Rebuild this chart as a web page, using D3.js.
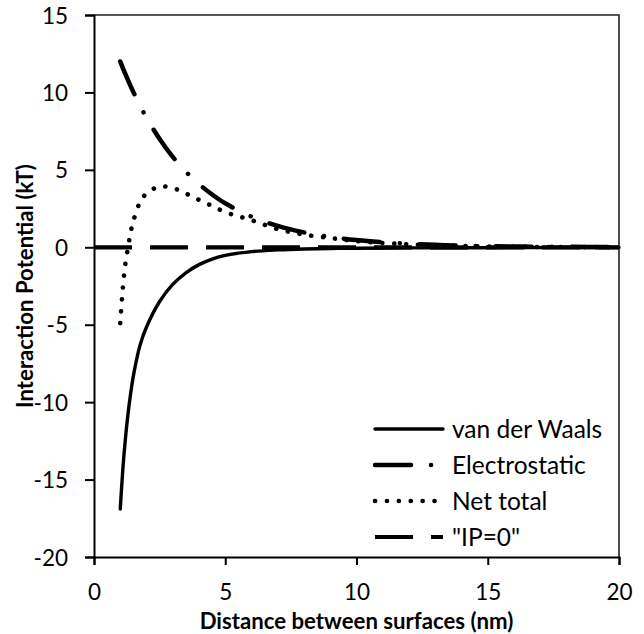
<!DOCTYPE html>
<html>
<head>
<meta charset="utf-8">
<script src="https://cdn.jsdelivr.net/npm/d3@7"></script>
<style>
  html, body { margin: 0; padding: 0; background: #fff; }
  svg { display: block; font-family: Lato, "Open Sans", sans-serif; }
</style>
</head>
<body>
<svg id="chart" width="644" height="634"></svg>
<script>
// Separation distance between surfaces (nm)
const distance = [1, 1.1, 1.2, 1.3, 1.4, 1.5, 1.75, 2, 2.5, 3, 3.5, 4, 4.5, 5, 6, 7, 8, 9, 10, 12, 14, 16, 18, 20];
// Interaction potentials (kT)
const vanDerWaals = [-16.9, -14.3, -12.3, -10.7, -9.4, -8.3, -6.35, -5.15, -3.5, -2.4, -1.65, -1.12, -0.76, -0.52, -0.28, -0.17, -0.11, -0.08, -0.06, -0.04, -0.03, -0.02, -0.015, -0.01];
const electrostatic = [12.0, 11.57, 11.16, 10.77, 10.39, 10.02, 9.16, 8.37, 6.99, 5.84, 4.88, 4.08, 3.41, 2.84, 1.98, 1.38, 0.96, 0.67, 0.47, 0.23, 0.11, 0.05, 0.03, 0.01];
const netTotal = [-4.9, -2.6, -1.0, 0.0, 1.0, 1.7, 2.9, 3.48, 3.92, 3.83, 3.47, 3.06, 2.67, 2.27, 1.75, 1.17, 0.82, 0.6, 0.4, 0.19, 0.08, 0.03, 0.015, 0.005];
// Reference line at zero potential
const zeroDistance = [0, 20];
const zeroValue = [0, 0];

const xTicks = [0, 5, 10, 15, 20];
const yTicks = [-20, -15, -10, -5, 0, 5, 10, 15];
const seriesNames = ["van der Waals", "Electrostatic", "Net total", "\"IP=0\""];

const svg = d3.select("#chart");
const plot = { left: 94, right: 619, top: 15, bottom: 557 };

const x = d3.scaleLinear().domain([0, 20]).range([plot.left, plot.right]);
const y = d3.scaleLinear().domain([-20, 15]).range([plot.bottom, plot.top]);

// Plot-area frame (top and right edges)
svg.append("path")
  .attr("d", `M${plot.left},${plot.top}H${plot.right}V${plot.bottom}`)
  .attr("fill", "none").attr("stroke", "#222").attr("stroke-width", 1.6);

// Axes (plain hyphen for negative labels)
const fmt = d => String(d);
const yAxis = svg.append("g")
  .attr("transform", `translate(${plot.left},0)`)
  .call(d3.axisLeft(y).tickValues(yTicks).tickSize(9).tickPadding(17).tickFormat(fmt));
const xAxis = svg.append("g")
  .attr("transform", `translate(0,${plot.bottom})`)
  .call(d3.axisBottom(x).tickValues(xTicks).tickSize(8).tickPadding(11).tickFormat(fmt));

[xAxis, yAxis].forEach(g => {
  g.select(".domain").attr("stroke", "#000").attr("stroke-width", 2);
  g.selectAll(".tick line").attr("stroke", "#000").attr("stroke-width", 2);
  g.selectAll(".tick text").attr("fill", "#000")
    .style("font-family", "Lato, sans-serif").style("font-size", "22.5px");
});
yAxis.selectAll(".tick text").attr("dy", null).attr("y", 8);
xAxis.selectAll(".tick text").attr("dy", null).attr("y", 43);

// Axis titles
svg.append("text")
  .attr("x", (plot.left + plot.right) / 2).attr("y", 629)
  .attr("text-anchor", "middle")
  .style("font-family", "Lato, sans-serif").style("font-weight", "bold").style("font-size", "22.2px")
  .text("Distance between surfaces (nm)");
svg.append("text")
  .attr("transform", `translate(33,${(plot.top + plot.bottom) / 2}) rotate(-90)`)
  .attr("text-anchor", "middle")
  .style("font-family", "Lato, sans-serif").style("font-weight", "bold").style("font-size", "22.2px")
  .text("Interaction Potential (kT)");

// Line styles for each series
const styles = [
  { width: 3.4, dash: null, cap: "round" },
  { width: 4.5, dash: "36,20,0.1,20", cap: "round" },
  { width: 4.6, dash: "0.1,11.8", cap: "round" },
  { width: 4.2, dash: "38,18", cap: "butt" }
];

// Smoothed lines through the data points
const line = d3.line()
  .x(d => x(d[0]))
  .y(d => y(d[1]))
  .curve(d3.curveCatmullRom.alpha(0.5));

const seriesData = [
  d3.zip(distance, vanDerWaals),
  d3.zip(distance, electrostatic),
  d3.zip(distance, netTotal),
  d3.zip(zeroDistance, zeroValue)
];

seriesData.forEach((data, i) => {
  const s = styles[i];
  svg.append("path")
    .datum(data)
    .attr("d", line)
    .attr("fill", "none")
    .attr("stroke", "#000")
    .attr("stroke-width", s.width)
    .attr("stroke-linecap", s.cap)
    .attr("stroke-dasharray", s.dash);
});

// Legend
const legend = svg.append("g").attr("transform", "translate(375,429)");
seriesNames.forEach((name, i) => {
  const s = styles[i];
  const row = legend.append("g").attr("transform", `translate(0,${i * 36})`);
  row.append("line")
    .attr("x1", 0).attr("x2", i === 2 ? 64 : 68).attr("y1", 0).attr("y2", 0)
    .attr("stroke", "#000")
    .attr("stroke-width", s.width)
    .attr("stroke-linecap", s.cap)
    .attr("stroke-dasharray", s.dash);
  row.append("text")
    .attr("x", 77).attr("y", 8.5)
    .style("font-family", "Lato, sans-serif").style("font-size", "24.5px")
    .text(name);
});
</script>
</body>
</html>
